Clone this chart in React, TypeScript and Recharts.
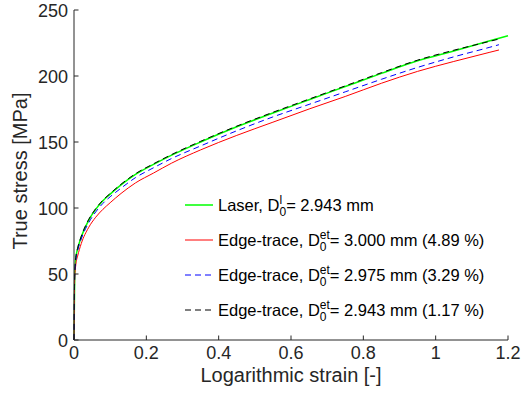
import { LineChart, Line, XAxis, YAxis, Legend } from 'recharts';

// strain grid (log. strain [-])
const strainLaser = [0, 0.002, 0.005, 0.01, 0.02, 0.04, 0.06, 0.08, 0.1, 0.13, 0.17, 0.22, 0.27, 0.35, 0.45, 0.55, 0.65, 0.75, 0.85, 0.95, 1.05, 1.15, 1.2];
const strainEdge = [0, 0.002, 0.005, 0.01, 0.02, 0.04, 0.06, 0.08, 0.1, 0.13, 0.17, 0.22, 0.27, 0.35, 0.45, 0.55, 0.65, 0.75, 0.85, 0.95, 1.05, 1.15, 1.175];

// true stress [MPa]
const stressLaser = [0, 50, 62, 69, 78, 90.5, 99, 105.5, 110.5, 117.5, 125.5, 133, 140, 150, 161.5, 172, 182, 192, 202, 211.5, 219, 226.7, 230.5];
const stressEt3000 = [0, 47, 57, 63.5, 73, 85, 93, 99, 104, 111, 119, 126.5, 134, 144, 155, 165, 175, 184.5, 194.5, 203.5, 211, 218, 219.7];
const stressEt2975 = [0, 49, 60.5, 67.5, 76.5, 88.5, 97, 103.5, 108.5, 115, 123, 130.5, 137.5, 147, 158.5, 169, 178.5, 188, 197.5, 206.5, 214.5, 221.8, 223.7];
const stressEt2943 = [0, 50.5, 62.5, 69.5, 78.5, 91, 99.5, 106, 111, 118, 126, 133.5, 140.5, 150.5, 162, 172.5, 182.5, 192.5, 202.5, 212, 219.5, 226.3, 228];

const xTicks = [0, 0.2, 0.4, 0.6, 0.8, 1, 1.2];
const yTicks = [0, 50, 100, 150, 200, 250];

const toPoints = (xs: number[], ys: number[]) => xs.map((strain, i) => ({ strain, stress: ys[i] }));

const series = [
  { key: 'laser', data: toPoints(strainLaser, stressLaser), color: '#00ff00', width: 1.5, dash: undefined as string | undefined, prefix: 'Laser, D', sup: 'l', rest: '= 2.943 mm' },
  { key: 'et3000', data: toPoints(strainEdge, stressEt3000), color: '#ff0000', width: 1, dash: undefined, prefix: 'Edge-trace, D', sup: 'et', rest: '= 3.000 mm (4.89 %)' },
  { key: 'et2975', data: toPoints(strainEdge, stressEt2975), color: '#0000ff', width: 1, dash: '6 4', prefix: 'Edge-trace, D', sup: 'et', rest: '= 2.975 mm (3.29 %)' },
  { key: 'et2943', data: toPoints(strainEdge, stressEt2943), color: '#000000', width: 1, dash: '6 4', prefix: 'Edge-trace, D', sup: 'et', rest: '= 2.943 mm (1.17 %)' },
];

const FONT = '"Liberation Sans", Arial, Helvetica, sans-serif';
const AXIS = '#262626';
const TICK_LEN = 4.5;

// rough glyph widths at 12px for stacking sub/superscripts
const smallWidth: Record<string, number> = { l: 2.66, et: 10, '0': 6.67 };

const fmt = (v: number) => String(v);

function BottomTick({ x, y, payload }: any) {
  return (
    <g>
      <line x1={x} x2={x} y1={y} y2={y - TICK_LEN} stroke={AXIS} />
      <text x={x} y={y + 19} textAnchor="middle" fontSize={18} fontFamily={FONT} fill={AXIS}>
        {fmt(payload.value)}
      </text>
    </g>
  );
}

function TopTick({ x, y }: any) {
  return <line x1={x} x2={x} y1={y} y2={y + TICK_LEN} stroke={AXIS} />;
}

function LeftTick({ x, y, payload }: any) {
  return (
    <g>
      <line x1={x} x2={x + TICK_LEN} y1={y} y2={y} stroke={AXIS} />
      <text x={x - 6} y={y + 6.5} textAnchor="end" fontSize={18} fontFamily={FONT} fill={AXIS}>
        {fmt(payload.value)}
      </text>
    </g>
  );
}

function RightTick({ x, y }: any) {
  return <line x1={x} x2={x - TICK_LEN} y1={y} y2={y} stroke={AXIS} />;
}

function LegendBox() {
  return (
    <svg width={330} height={135} style={{ display: 'block' }}>
      {series.map((s, i) => {
        const cy = 16 + i * 35;
        const supW = smallWidth[s.sup];
        const subW = smallWidth['0'];
        return (
          <g key={s.key}>
            <line x1={0} x2={28} y1={cy} y2={cy} stroke={s.color} strokeWidth={s.width} strokeDasharray={s.dash} />
            <text x={33} y={cy + 6} fontSize={16.5} fontFamily={FONT} fill="#000">
              {s.prefix}
              <tspan fontSize={12} dy={-7}>{s.sup}</tspan>
              <tspan fontSize={12} dx={-supW} dy={12}>0</tspan>
              <tspan dx={Math.max(supW, subW) - subW} dy={-5}>{s.rest}</tspan>
            </text>
          </g>
        );
      })}
    </svg>
  );
}

export default function App() {
  return (
    <div style={{ position: 'absolute', left: 0, top: 0, width: 521, height: 404, background: '#fff' }}>
      <LineChart width={521} height={404} margin={{ top: 10, right: 13, bottom: 0, left: 0 }}>
        <XAxis
          dataKey="strain"
          type="number"
          domain={[0, 1.2]}
          ticks={xTicks}
          height={64}
          tickSize={0}
          tickMargin={0}
          tickLine={false}
          tick={<BottomTick />}
          axisLine={{ stroke: AXIS }}
          interval={0}
          label={(p: any) => {
            const vb = p.viewBox;
            return (
              <text x={vb.x + vb.width / 2} y={382} textAnchor="middle" fontSize={20} fontFamily={FONT} fill={AXIS}>
                Logarithmic strain [-]
              </text>
            );
          }}
        />
        <XAxis
          xAxisId="top"
          orientation="top"
          type="number"
          domain={[0, 1.2]}
          ticks={xTicks}
          height={0}
          tickSize={0}
          tickMargin={0}
          tickLine={false}
          tick={<TopTick />}
          axisLine={{ stroke: AXIS }}
          interval={0}
        />
        <YAxis
          type="number"
          domain={[0, 250]}
          ticks={yTicks}
          width={74}
          tickSize={0}
          tickMargin={0}
          tickLine={false}
          tick={<LeftTick />}
          axisLine={{ stroke: AXIS }}
          interval={0}
          label={(p: any) => {
            const vb = p.viewBox;
            const cy = vb.y + vb.height / 2 - 4;
            return (
              <text x={27} y={cy} transform={`rotate(-90 27 ${cy})`} textAnchor="middle" fontSize={20} fontFamily={FONT} fill={AXIS}>
                True stress [MPa]
              </text>
            );
          }}
        />
        <YAxis
          yAxisId="right"
          orientation="right"
          type="number"
          domain={[0, 250]}
          ticks={yTicks}
          width={0}
          tickSize={0}
          tickMargin={0}
          tickLine={false}
          tick={<RightTick />}
          axisLine={{ stroke: AXIS }}
          interval={0}
        />
        <Legend
          layout="vertical"
          align="center"
          verticalAlign="middle"
          content={<LegendBox />}
          wrapperStyle={{ left: 185, top: 189, width: 330, height: 135 }}
        />
        {series.map((s) => (
          <Line
            key={s.key}
            data={s.data}
            dataKey="stress"
            name={s.key}
            type="monotone"
            stroke={s.color}
            strokeWidth={s.width}
            strokeDasharray={s.dash}
            dot={false}
            activeDot={false}
            isAnimationActive={false}
          />
        ))}
      </LineChart>
    </div>
  );
}
